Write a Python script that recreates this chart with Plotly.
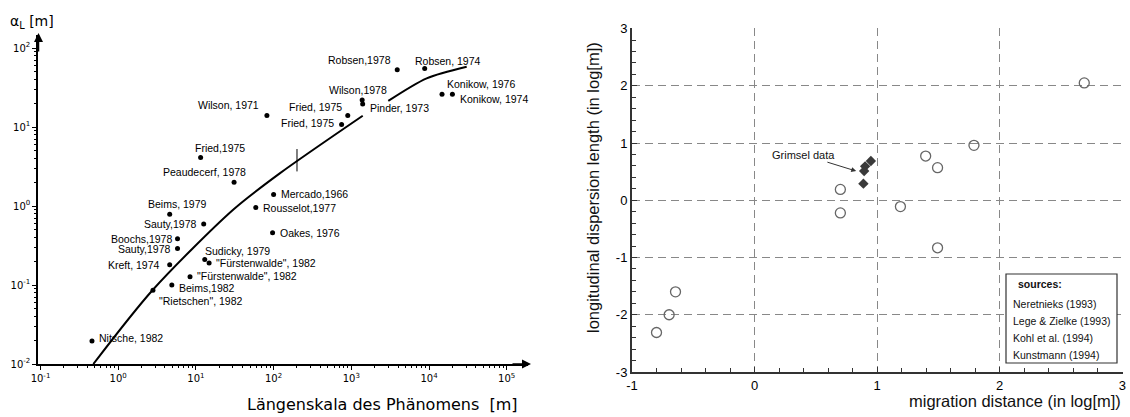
import numpy as np
import plotly.graph_objects as go

W, H = 1130, 417
def px(x): return x / W
def py(y): return 1 - y / H

# ---------------- Left panel data (log-log) ----------------
left_names = ["Wilson, 1971", "Fried,1975", "Peaudecerf, 1978", "Mercado,1966",
              "Beims, 1979", "Sauty,1978", "Boochs,1978", "Sauty,1978", "Kreft, 1974",
              "Sudicky, 1979", "\"Fürstenwalde\", 1982", "\"Fürstenwalde\", 1982",
              "Beims,1982", "\"Rietschen\", 1982", "Nitsche, 1982", "Rousselot,1977",
              "Oakes, 1976", "Robsen,1978", "Robsen, 1974", "Konikow, 1976",
              "Konikow, 1974", "Wilson,1978", "Pinder, 1973", "Fried, 1975", "Fried, 1975"]
left_x = [82, 11.5, 31, 100, 4.6, 12.6, 5.8, 5.8, 4.6, 13, 14.8, 8.4, 4.9, 2.8, 0.46,
          59, 97, 3900, 8800, 14700, 20000, 1380, 1400, 900, 750]
left_y = [14, 4.1, 2.0, 1.4, 0.785, 0.59, 0.385, 0.29, 0.18, 0.21, 0.19, 0.127, 0.1,
          0.086, 0.0195, 0.96, 0.46, 53, 55, 26, 26, 22, 19.5, 14, 10.8]
# label placement (pixel offsets / anchors)
lab_anchor = ["right", "left", "right", "left", "center", "right", "right", "right", "right",
              "left", "left", "left", "left", "left", "left", "left", "left", "right", "left",
              "left", "left", "center", "left", "right", "right"]
lab_dx = [-6, -8, 14, 5, 8, -5, -4, -5, -8, -2, 5, 5, 5, 4, 5, 5, 5, -4, -12, 3, 6, -4, 5, -4, -6]
lab_dy = [10, 10, 10, 0, 10, 0, 0, -1, 0, 9, 0, 1, -3, -11, 3, -1, 0, 10, 8, 10, -5, 10, -4, 8, 1]

curve1_x = [0.479, 2.78, 29.9, 120, 1403]
curve1_y = [0.01, 0.0865, 0.891, 2.59, 13.9]
curve2_x = [2992, 9330, 30550]
curve2_y = [21.4, 41.3, 57.9]
curve_tick_x = [200]
curve_tick_y = [3.8]

x_tick_exps = [-1, 0, 1, 2, 3, 4, 5]
y_tick_exps = [-2, -1, 0, 1, 2]

# ---------------- Right panel data (log values) ----------------
open_x = [0.70, 0.70, -0.645, -0.697, -0.80, 2.69, 1.79, 1.396, 1.493, 1.19, 1.493]
open_y = [0.19, -0.22, -1.60, -2.0, -2.31, 2.05, 0.96, 0.773, 0.57, -0.11, -0.83]
grimsel_x = [0.949, 0.902, 0.894, 0.888]
grimsel_y = [0.686, 0.593, 0.511, 0.291]
sources = ["Neretnieks (1993)", "Lege & Zielke (1993)", "Kohl et al. (1994)", "Kunstmann (1994)"]
r_ticks_x = [-1, 0, 1, 2, 3]
r_ticks_y = [-3, -2, -1, 0, 1, 2, 3]

fig = go.Figure()

# left curve
for cx, cy in ((curve1_x, curve1_y), (curve2_x, curve2_y)):
    fig.add_trace(go.Scatter(x=cx, y=cy, mode="lines",
                             line=dict(color="black", width=2, shape="spline", smoothing=0.8),
                             xaxis="x", yaxis="y", showlegend=False, hoverinfo="skip"))
fig.add_trace(go.Scatter(x=curve_tick_x, y=curve_tick_y, mode="markers",
                         marker=dict(symbol="line-ns", size=16, line=dict(color="black", width=1)),
                         xaxis="x", yaxis="y", showlegend=False, hoverinfo="skip"))
fig.add_trace(go.Scatter(x=left_x, y=left_y, mode="markers", marker=dict(color="black", size=5),
                         xaxis="x", yaxis="y", showlegend=False, text=left_names))

# right points
fig.add_trace(go.Scatter(x=open_x, y=open_y, mode="markers",
                         marker=dict(symbol="circle-open", size=10, color="#666", line=dict(width=1.3)),
                         xaxis="x2", yaxis="y2", showlegend=False))
fig.add_trace(go.Scatter(x=grimsel_x, y=grimsel_y, mode="markers",
                         marker=dict(symbol="diamond", size=8, color="#3a3a3a"),
                         xaxis="x2", yaxis="y2", showlegend=False))

annotations = []
lab_font = dict(family="Liberation Sans, Arial, sans-serif", size=10.5, color="black")
for n, xv, yv, a, dx, dy in zip(left_names, left_x, left_y, lab_anchor, lab_dx, lab_dy):
    annotations.append(dict(x=np.log10(xv), y=np.log10(yv), xref="x", yref="y", text=n,
                            showarrow=False, xanchor=a, yanchor="middle", xshift=dx, yshift=dy,
                            font=lab_font))

# left axis titles
annotations.append(dict(x=px(8), y=py(22), xref="paper", yref="paper", xanchor="left", yanchor="middle",
                        text="α<sub>L</sub> [m]", showarrow=False,
                        font=dict(family="DejaVu Sans", size=14, color="black")))
annotations.append(dict(x=px(382), y=py(404), xref="paper", yref="paper", xanchor="center", yanchor="middle",
                        text="Längenskala des Phänomens  [m]", showarrow=False,
                        font=dict(family="DejaVu Sans", size=16, color="black")))
# arrowheads of left axes
annotations.append(dict(x=px(38.5), y=py(33), xref="paper", yref="paper", text="", showarrow=True,
                        ax=0, ay=20, arrowhead=2, arrowsize=1.2, arrowwidth=1.5, arrowcolor="black"))
annotations.append(dict(x=px(531), y=py(364), xref="paper", yref="paper", text="", showarrow=True,
                        ax=-20, ay=0, arrowhead=2, arrowsize=1.2, arrowwidth=1.5, arrowcolor="black"))

# right titles
rfont = dict(family="Liberation Sans, Arial, sans-serif", color="#111")
annotations.append(dict(x=px(1123), y=py(401), xref="paper", yref="paper", xanchor="right", yanchor="middle",
                        text="migration distance (in log[m])", showarrow=False, font=dict(rfont, size=16.5)))
annotations.append(dict(x=px(593), y=py(188), xref="paper", yref="paper", xanchor="center", yanchor="middle",
                        text="longitudinal dispersion length (in log[m])", textangle=-90, showarrow=False,
                        font=dict(rfont, size=16.5)))
# Grimsel data label
annotations.append(dict(x=0.845, y=0.50, xref="x2", yref="y2", text="Grimsel data", showarrow=True,
                        ax=-55, ay=-17, arrowhead=2, arrowsize=1, arrowwidth=1, arrowcolor="#333",
                        font=dict(rfont, size=11), standoff=2))
# sources box
annotations.append(dict(x=px(1016), y=py(284), xref="paper", yref="paper", xanchor="left", yanchor="middle",
                        text="<b>sources:</b>", showarrow=False, font=dict(rfont, size=10.5)))
for i, s in enumerate(sources):
    annotations.append(dict(x=px(1011), y=py([304, 321, 338, 355][i]), xref="paper", yref="paper",
                            xanchor="left", yanchor="middle", text=s, showarrow=False,
                            font=dict(rfont, size=10.5)))

shapes = [dict(type="rect", xref="paper", yref="paper", x0=px(1006), x1=px(1117), y0=py(363), y1=py(274),
               fillcolor="white", line=dict(color="#333", width=1.2), layer="above")]

def pow_text(e):
    return "10<sup>%s</sup>" % e

tickfont_l = dict(family="DejaVu Sans", size=10, color="black")
fig.update_layout(
    template="none",
    width=W, height=H, margin=dict(l=0, r=0, t=0, b=0, pad=0, autoexpand=False),
    paper_bgcolor="white", plot_bgcolor="white", showlegend=False,
    xaxis=dict(type="log", domain=[px(38), px(528)], range=[-1.032, 5.274], anchor="y", automargin=False,
               showline=True, linecolor="black", linewidth=1.5, showgrid=False, zeroline=False,
               ticks="outside", ticklen=4, tickcolor="black",
               tickmode="array", tickvals=[10.0 ** e for e in x_tick_exps],
               ticktext=[pow_text(e) for e in x_tick_exps],
               tickfont=tickfont_l,
               minor=dict(ticks="outside", ticklen=2, tickcolor="black", dtick="D1", showgrid=False)),
    yaxis=dict(type="log", domain=[py(364), py(35)], range=[-2, 2.165], anchor="x", automargin=False,
               showline=True, linecolor="black", linewidth=1.5, showgrid=False, zeroline=False,
               ticks="outside", ticklen=4, tickcolor="black",
               tickmode="array", tickvals=[10.0 ** e for e in y_tick_exps],
               ticktext=[pow_text(e) for e in y_tick_exps],
               tickfont=tickfont_l,
               minor=dict(ticks="outside", ticklen=2, tickcolor="black", dtick="D1", showgrid=False)),
    xaxis2=dict(domain=[px(632), px(1123)], range=[-1, 3.006], anchor="y2", automargin=False,
                showline=True, linecolor="#333", linewidth=2, showgrid=True, gridcolor="#888",
                griddash="8px,5px", gridwidth=1.4, zeroline=False,
                tickmode="array", tickvals=r_ticks_x, ticktext=[str(v) for v in r_ticks_x],
                ticks="inside", ticklen=5,
                tickcolor="#333", tickfont=dict(rfont, size=13, color="#000"),
                minor=dict(ticks="inside", ticklen=4, dtick=0.2, tickcolor="#333", showgrid=False)),
    yaxis2=dict(domain=[py(372), py(28)], range=[-3, 3.01], anchor="x2", automargin=False,
                showline=True, linecolor="#333", linewidth=2, showgrid=True, gridcolor="#888",
                griddash="8px,5px", gridwidth=1.4, zeroline=False,
                tickmode="array", tickvals=r_ticks_y, ticktext=[str(v) for v in r_ticks_y],
                ticks="inside", ticklen=5,
                tickcolor="#333", tickfont=dict(rfont, size=13, color="#000"),
                minor=dict(ticks="inside", ticklen=4, dtick=0.2, tickcolor="#333", showgrid=False)),
    annotations=annotations, shapes=shapes,
)

fig.write_html("out.html", config={"displayModeBar": False},
               post_script="document.body.style.margin='0';document.body.style.overflow='hidden';")
